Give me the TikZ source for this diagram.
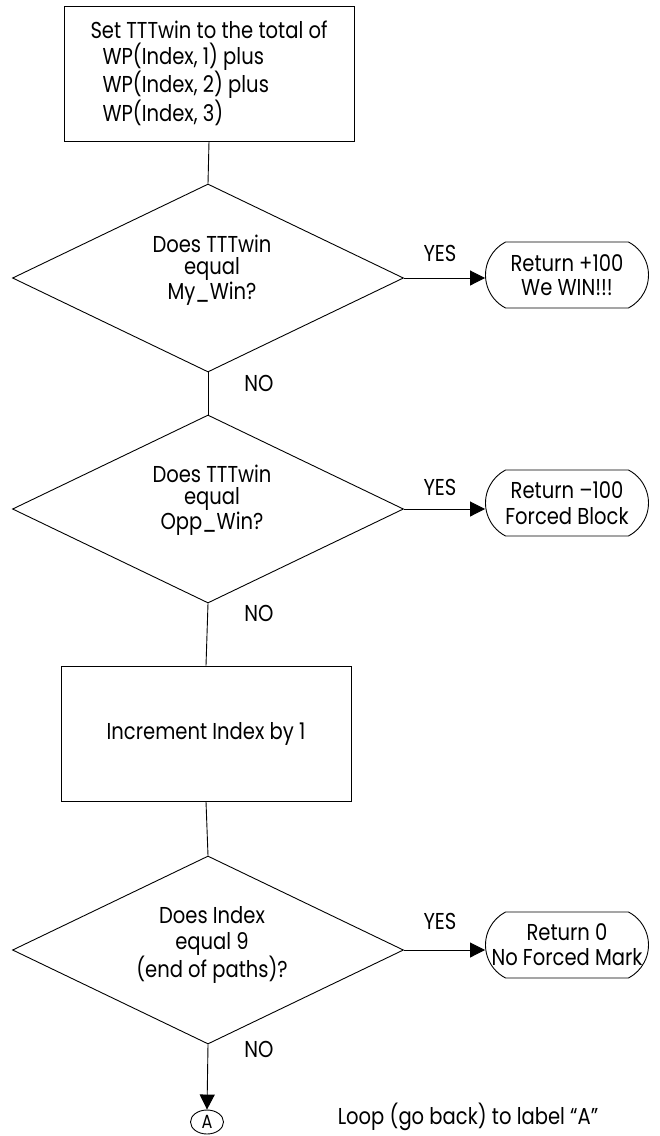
\documentclass[tikz,border=0pt]{standalone}
\usepackage{fontspec}
\setmainfont{Poppins}[FakeStretch=0.85]
\usetikzlibrary{shapes.geometric,shapes.misc,arrows.meta}
\begin{document}
\begin{tikzpicture}[x=1pt,y=-1pt,
  font=\fontsize{23}{24}\selectfont,
  edgeline/.style={draw=black,line width=0.9pt},
  procbox/.style={edgeline,rectangle,minimum width=290pt,minimum height=135pt,inner sep=0pt,align=left},
  decision/.style={edgeline,diamond,minimum width=391pt,minimum height=188pt,inner sep=0pt},
  terminal/.style={edgeline,rounded rectangle,rounded rectangle arc length=125,minimum width=163pt,minimum height=66pt,inner sep=0pt},
  connector/.style={edgeline,ellipse,minimum width=33pt,minimum height=24pt,inner sep=0pt},
  txt/.style={inner sep=0pt,align=center},
  flow/.style={edgeline},
  arr/.style={edgeline,-{Triangle[length=15pt,width=15pt]}},
]
\useasboundingbox (0,0) rectangle (660,1136);

% process boxes
\node[procbox,font=\fontsize{23}{25.5}\selectfont] (set) at (209,73.5)
  {Set TTTwin to the total of\\
   \hspace*{12pt}WP(Index, 1) plus\\
   \hspace*{12pt}WP(Index, 2) plus\\
   \hspace*{12pt}WP(Index, 3)};
\node[procbox] (inc) at (206,733.5) {Increment Index by 1};

% decisions
\node[decision] (d1) at (208,278) {};
\node[txt,font=\fontsize{23}{22.5}\selectfont] (d1t) at (212,270) {Does TTTwin\\equal\\My\_Win?};
\node[decision] (d2) at (208,509) {};
\node[txt,font=\fontsize{23}{22.5}\selectfont] (d2t) at (212,500) {Does TTTwin\\equal\\Opp\_Win?};
\node[decision] (d3) at (208,950) {};
\node[txt,font=\fontsize{23}{25.5}\selectfont] (d3t) at (212,945) {Does Index\\equal 9\\(end of paths)?};

% terminals
\node[terminal] (t1) at (567,275) {};
\node[txt] (t1t) at (t1) {Return +100\\We WIN!!!};
\node[terminal] (t2) at (567,503) {};
\node[txt,font=\fontsize{23}{26}\selectfont] (t2t) at (t2) {Return --100\\Forced Block};
\node[terminal] (t3) at (567,945) {};
\node[txt,font=\fontsize{23}{25}\selectfont] (t3t) at (t3) {Return 0\\No Forced Mark};

% off-page connector
\node[connector,font=\fontsize{19}{20}\selectfont] (ca) at (207,1122) {A};
\node[txt] (loopnote) at (468,1117) {Loop (go back) to label \textquotedblleft A\textquotedblright};

% branch labels
\node[txt] (yes1) at (440,253) {YES};
\node[txt] (yes2) at (440,487) {YES};
\node[txt] (yes3) at (440,921) {YES};
\node[txt] (no1) at (259,383) {NO};
\node[txt] (no2) at (259,613) {NO};
\node[txt] (no3) at (259,1049) {NO};

% connectors
\draw[flow] (set.south) -- (d1.north);
\draw[flow] (d1.south) -- (d2.north);
\draw[flow] (d2.south) -- (inc.south |- inc.north);
\draw[flow] (inc.south) -- (d3.north);
\draw[arr] (d1.east) -- (d1.east -| t1.west);
\draw[arr] (d2.east) -- (d2.east -| t2.west);
\draw[arr] (d3.east) -- (d3.east -| t3.west);
\draw[arr] (d3.south) -- (ca.north);
\end{tikzpicture}
\end{document}
